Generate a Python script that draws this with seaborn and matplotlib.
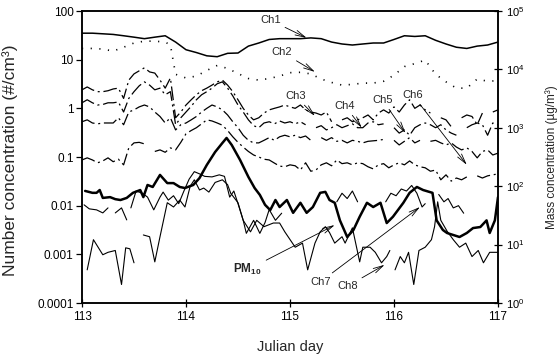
import numpy as np
import pandas as pd
import matplotlib
matplotlib.use("Agg")
import matplotlib.pyplot as plt
import seaborn as sns
from matplotlib.ticker import NullLocator, FixedLocator

nan = np.nan

# ---------------- data ----------------
grid10 = np.round(np.linspace(113.0, 117.0, 41), 2)   # 0.1-day sampling
grid05 = np.round(np.linspace(113.0, 117.0, 81), 2)   # 0.05-day sampling

ch1 = [35, 35, 34, 33, 31, 29, 27, 29, 31, 23,
       16, 14, 12, 11.5, 13.5, 13.7, 19, 22, 26, 27,
       27, 27, 28, 27, 23, 21, 20, 21, 22, 22,
       26, 31, 30, 31, 25, 21, 18, 17, 19, 20,
       23]

ch2_days = [113.0, 113.1, 113.2, 113.3, 113.4, 113.5, 113.6, 113.7, 113.8, 113.85,
            113.9, 114.0, 114.1, 114.2, 114.3, 114.4, 114.5, 114.6, 114.7, 114.8,
            114.9, 115.0, 115.1, 115.2, 115.3, 115.4, 115.5, 115.6, 115.7, 115.8,
            115.9, 116.0, 116.1, 116.2, 116.3, 116.4, 116.5, 116.6, 116.7, 116.8,
            116.9, 117.0]
ch2 = [17, 17, 16.5, 15, 18, 22, 24, 24, 23, 20,
       5.0, 4.2, 4.6, 6.0, 7.6, 6.6, 5.2, 4.1, 3.8, 4.1,
       4.6, 5.4, 5.5, 5.1, 4.0, 3.4, 3.0, 3.1, 3.3, 3.3,
       3.6, 4.8, 7.2, 8.3, 9.8, 5.0, 3.5, 2.6, 2.6, 4.0,
       3.6, 3.7]

ch3 = [2.4, 2.75, 2.4, 2.2, 2.2, 2.3, 2.5, 2.6, 1.6, 3.8,
       5.1, 5.9, 6.8, 5.6, 5.3, 3.8, 2.6, 4.2, 0.64, 0.84,
       1.17, 1.5, 1.9, 2.3, 2.6, 3.0, 3.5, 3.8, 3.0, 2.2,
       1.5, 1.0, 0.73, 0.58, 0.64, 0.8, 0.93, 1.0, 1.07, 1.17,
       1.07, 1.0, 1.17, 0.93, 0.84, 0.8, 0.73, 0.84, 0.53, nan,
       0.58, 0.64, 0.53, 0.58, 0.64, 0.73, 0.58, 0.8, 0.93, 0.8,
       1.07, 0.84, 1.17, 1.5, 1.0, 1.17, 0.93, 0.8, nan, 0.64,
       0.58, 0.42, nan, 0.64, 0.73, 0.68, 0.46, 0.8, nan, 0.84,
       0.93]

ch4 = [1.3, 1.5, 1.3, 1.17, 1.2, 1.3, 1.3, 1.35, 0.84, 1.6,
       2.2, 2.9, 3.5, 3.0, 2.4, 2.6, 1.9, 2.2, 0.46, 0.64,
       0.84, 1.1, 1.5, 1.9, 2.2, 2.6, 3.2, 3.5, 2.6, 1.8,
       1.17, 0.84, 0.58, 0.44, 0.40, 0.5, 0.53, 0.48, 0.55, 0.5,
       0.53, 0.48, 0.53, 0.46, nan, 0.40, 0.44, 0.36, 0.40, 0.46,
       0.40, 0.44, 0.48, 0.40, 0.40, 0.5, 0.53, 0.46, 0.48, nan,
       0.40, 0.31, 0.36, 0.28, 0.40, 0.46, 0.5, 0.46, 0.40, 0.46,
       0.36, 0.31, 0.28, nan, 0.40, 0.46, 0.5, 0.46, 0.28, 0.5,
       0.46]

ch5 = [0.53, 0.58, 0.5, 0.48, 0.5, 0.5, 0.5, 0.64, 0.46, 0.84,
       0.93, 1.07, 1.17, 1.07, 0.84, 0.68, 0.5, 0.64, 0.36, 0.46,
       0.5, 0.58, 0.68, 0.84, 1.0, 1.17, 1.07, 0.93, 0.73, 0.53,
       0.40, 0.28, 0.22, 0.195, 0.195, 0.22, 0.25, 0.22, 0.26, 0.28,
       0.26, 0.28, 0.25, 0.27, 0.22, nan, 0.25, 0.22, 0.25, 0.21,
       0.22, 0.195, 0.22, 0.21, 0.195, 0.21, 0.215, 0.22, 0.23, nan,
       0.22, 0.177, 0.21, 0.25, 0.195, 0.22, nan, 0.21, 0.22, 0.195,
       0.177, 0.195, 0.16, 0.14, 0.154, 0.13, 0.096, 0.13, 0.14, 0.11,
       0.12]

ch6 = [0.087, 0.096, 0.087, 0.076, 0.083, 0.096, 0.08, 0.09, 0.069, 0.154,
       0.195, 0.2, 0.186, nan, 0.13, 0.14, 0.125, 0.154, 0.14, 0.2,
       0.3, 0.35, 0.40, 0.48, 0.58, 0.55, 0.5, 0.45, 0.35, 0.26,
       0.2, 0.16, 0.13, 0.11, 0.1, 0.09, 0.087, 0.075, 0.065, 0.063,
       0.069, 0.066, 0.054, 0.076, 0.051, 0.054, 0.069, 0.076, 0.066, 0.087,
       0.073, 0.076, 0.069, 0.076, 0.073, 0.063, 0.057, 0.069, 0.073, 0.06,
       0.069, 0.076, 0.069, 0.083, 0.069, 0.063, 0.06, 0.051, 0.054, 0.034,
       0.043, 0.032, 0.037, 0.034, 0.039, nan, 0.041, 0.037, 0.041, 0.043,
       0.045]

ch7_days = [113.02, 113.07, 113.14, 113.20, 113.25, 113.28,
            113.32, 113.38, 113.43, 113.45,
            113.47, 113.52, 113.58, 113.63, 113.69, 113.75, 113.78, 113.83, 113.88, 113.93,
            113.98, 114.03, 114.08, 114.13, 114.18, 114.25, 114.32, 114.37, 114.42, 114.46,
            114.50, 114.55, 114.58, 114.65, 114.71, 114.76, 114.80, 114.86, 114.92, 114.95,
            115.45, 115.50, 115.55, 115.60, 115.65, 115.70,
            115.92, 115.97, 116.02, 116.07, 116.12, 116.17, 116.22, 116.27, 116.30, 116.35,
            116.43, 116.48, 116.52, 116.57, 116.62, 116.67]
ch7 = [0.0104, 0.0086, 0.0082, 0.0071, 0.009, nan,
       0.0071, 0.009, 0.0051, nan,
       0.009, 0.02, 0.018, 0.015, 0.0082, 0.015, 0.019, 0.013, 0.016, 0.011,
       0.02, 0.035, 0.05, 0.045, 0.04, 0.039, 0.043, 0.04, 0.015, 0.02,
       0.011, 0.005, 0.0027, 0.005, 0.0027, 0.0045, 0.0083, 0.005, 0.007, nan,
       0.012, 0.018, 0.014, 0.02, 0.012, nan,
       0.012, 0.018, 0.016, 0.022, 0.02, 0.026, 0.018, 0.0094, 0.011, nan,
       0.017, 0.012, 0.014, 0.009, 0.01, 0.007]

ch8_days = [113.05, 113.11, 113.20, 113.25, 113.32, 113.38, 113.42, 113.46, 113.50, 113.55,
            113.59, 113.65, 113.70, 113.75, 113.82, 113.88, 113.94, 113.99, 114.04, 114.08,
            114.13, 114.17, 114.22, 114.28, 114.35, 114.40, 114.43, 114.50, 114.55, 114.62,
            114.68, 114.75, 114.84, 114.90, 114.95, 115.05, 115.12, 115.17, 115.24, 115.29,
            115.34, 115.38, 115.43, 115.50, 115.53, 115.60, 115.67, 115.70, 115.77, 115.82,
            115.88, 115.93, 115.96, 115.99,
            116.01, 116.06, 116.10, 116.14, 116.19, 116.24, 116.30, 116.36, 116.39, 116.42,
            116.45, 116.51, 116.57, 116.63, 116.69, 116.75, 116.81, 116.86, 116.92, 117.0]
ch8 = [0.00048, 0.002, 0.00098, 0.0011, 0.0012, 0.00024, 0.00136, 0.0013, 0.00067, nan,
       0.0025, 0.0023, 0.0007, 0.0023, 0.0115, 0.0094, 0.013, 0.0094, 0.025, 0.034,
       0.021, 0.023, 0.019, 0.03, 0.034, 0.027, 0.018, 0.0115, 0.005, 0.0029,
       0.005, 0.0037, 0.0044, 0.0044, 0.0029, 0.0014, 0.0017, 0.00048, 0.0017, 0.0029,
       0.0037, 0.0028, 0.0017, 0.0023, 0.0017, 0.0035, 0.0007, 0.0014, 0.0014, 0.0011,
       0.00067, 0.0009, 0.0012, nan,
       0.00048, 0.0009, 0.00067, 0.0011, 0.00024, 0.0012, 0.0014, 0.002, 0.0037, 0.012,
       0.005, 0.003, 0.002, 0.0014, 0.0017, 0.0009, 0.0012, 0.00067, 0.0011, 0.0011]

pm10_days = [113.03, 113.10, 113.14, 113.17, 113.20, 113.27, 113.32, 113.37, 113.43, 113.49,
             113.56, 113.59, 113.63, 113.68, 113.75, 113.82, 113.88, 113.94, 113.99, 114.07,
             114.13, 114.20, 114.28, 114.35, 114.39, 114.44, 114.52, 114.60, 114.66, 114.71,
             114.76, 114.81, 114.86, 114.90, 114.97, 115.03, 115.10, 115.16, 115.22, 115.29,
             115.34, 115.38, 115.43, 115.48, 115.55, 115.61, 115.67, 115.74, 115.80, 115.87,
             115.93, 115.99, 116.09, 116.15, 116.22, 116.28, 116.37, 116.41, 116.47, 116.51,
             116.57, 116.63, 116.70, 116.76, 116.83, 116.89, 116.92, 116.97, 117.0]
pm10 = [83, 77, 77, 86, 63, 65, 60, 58, 63, 77,
        86, 65, 105, 97, 156, 113, 113, 97, 93, 105,
        138, 231, 385, 550, 670, 507, 281, 144, 93, 71,
        48, 39, 58, 44, 58, 35, 52, 35, 44, 77,
        80, 58, 52, 26, 13.5, 17.8, 30, 52, 44, 52,
        23.4, 30, 52, 77, 97, 86, 77, 26, 17.8, 15.8,
        14.6, 13.5, 15.8, 19.2, 20, 26, 15.8, 26, 65]

x_ticks = [113, 114, 115, 116, 117]
left_ticks = [1e-4, 1e-3, 1e-2, 1e-1, 1, 10, 100]
left_tick_labels = ["0.0001", "0.001", "0.01", "0.1", "1", "10", "100"]
right_ticks = [1, 10, 100, 1e3, 1e4, 1e5]
right_tick_labels = [r"$10^{0}$", r"$10^{1}$", r"$10^{2}$", r"$10^{3}$", r"$10^{4}$", r"$10^{5}$"]

annot_text = ["Ch1", "Ch2", "Ch3", "Ch4", "Ch5", "Ch6", "Ch7", "Ch8"]
annot_text_pos = [(114.81, 65), (114.92, 14.4), (115.05, 1.8), (115.53, 1.12),
                  (115.89, 1.49), (116.18, 1.88), (115.29, 0.00027), (115.55, 0.00022)]
annot_tip = [(115.16, 28), (115.24, 5.6), (115.24, 0.70), (115.69, 0.40),
             (116.11, 0.31), (116.70, 0.069), (116.25, 0.0094), (115.91, 0.00061)]
pm10_text_pos = (114.59, 0.00048)
pm10_tip = (115.43, 0.0040)

# ---------------- styling ----------------
sns.set_theme(style="ticks")
plt.rcParams["font.family"] = ["Liberation Sans", "DejaVu Sans"]
plt.rcParams["mathtext.fontset"] = "custom"
plt.rcParams["mathtext.rm"] = "Liberation Sans"
plt.rcParams["mathtext.it"] = "Liberation Sans:italic"
plt.rcParams["mathtext.bf"] = "Liberation Sans:bold"


def to_segments(days, vals):
    v = np.asarray(vals, dtype=float)
    seg = np.cumsum(np.isnan(v))
    df = pd.DataFrame({"day": np.asarray(days, dtype=float), "val": v, "seg": seg})
    return df.dropna()


fig = plt.figure(figsize=(5.6, 3.54), dpi=100)
ax = fig.add_axes([82 / 560, 51 / 354, 416 / 560, 292 / 354])
ax.set_yscale("log")

dashdot = (0, (11, 3, 1.6, 3))
series = [
    (grid10, ch1, dict(lw=1.1, ls="-")),
    (ch2_days, ch2, dict(lw=1.2, ls=(0, (0.7, 4.5)))),
    (grid05, ch3, dict(lw=0.9, ls=dashdot)),
    (grid05, ch4, dict(lw=0.9, ls=dashdot)),
    (grid05, ch5, dict(lw=0.9, ls=dashdot)),
    (grid05, ch6, dict(lw=0.9, ls=dashdot)),
    (ch7_days, ch7, dict(lw=0.8, ls="-")),
    (ch8_days, ch8, dict(lw=0.8, ls="-")),
]
for days, vals, kw in series:
    d = to_segments(days, vals)
    sns.lineplot(data=d, x="day", y="val", units="seg", estimator=None, sort=False,
                 color="black", ax=ax, legend=False, **kw)

ax2 = ax.twinx()
ax2.set_yscale("log")
dpm = to_segments(pm10_days, pm10)
sns.lineplot(data=dpm, x="day", y="val", units="seg", estimator=None, sort=False,
             color="black", lw=1.8, ax=ax2, legend=False)

ax.set_xlim(113, 117)
ax.set_ylim(1e-4, 100)
ax2.set_ylim(1, 1e5)

ax.set_xticks(x_ticks)
ax.set_xticklabels([str(t) for t in x_ticks])
ax.yaxis.set_major_locator(FixedLocator(left_ticks))
ax.set_yticklabels(left_tick_labels)
ax.yaxis.set_minor_locator(NullLocator())
ax2.yaxis.set_major_locator(FixedLocator(right_ticks))
ax2.set_yticklabels(right_tick_labels)
ax2.yaxis.set_minor_locator(NullLocator())

ax.tick_params(axis="y", direction="out", length=4, width=0.9, labelsize=8.5, pad=2, colors="black")
ax.tick_params(axis="x", direction="inout", length=6, width=0.9, labelsize=8.5, pad=3, colors="black")
ax2.tick_params(axis="y", direction="inout", length=6, width=0.9, labelsize=8, pad=3, colors="black")

for a in (ax, ax2):
    for s in a.spines.values():
        s.set_visible(True)
        s.set_linewidth(1.1)
        s.set_color("black")

ax.set_xlabel("Julian day", fontsize=10.5)
ax.set_ylabel("Number concentration (#/cm³)", fontsize=12.5)
ax2.set_ylabel("Mass concentration (µg/m³)", fontsize=8.5, rotation=90)
ax.xaxis.set_label_coords(0.5, -0.127)
ax.yaxis.set_label_coords(-0.154, 0.49)
ax2.yaxis.set_label_coords(1.113, 0.5)

arrow_kw = dict(arrowstyle="->,head_length=0.9,head_width=0.22", lw=0.6, color="black",
                shrinkA=1, shrinkB=0)
for txt, pos, tip in zip(annot_text, annot_text_pos, annot_tip):
    ax.annotate(txt, xy=tip, xytext=pos, ha="center", va="center", fontsize=8,
                arrowprops=arrow_kw)
ax.annotate(r"$\mathbf{PM_{10}}$", xy=pm10_tip, xytext=pm10_text_pos, ha="center",
            va="center", fontsize=8.5, arrowprops=arrow_kw)

fig.savefig("out.png", dpi=100, facecolor="white")
